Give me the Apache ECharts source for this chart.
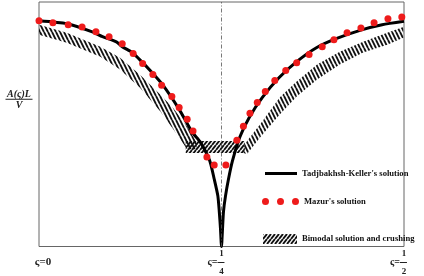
<!DOCTYPE html>
<html>
<head>
<meta charset="utf-8">
<script src="https://cdn.jsdelivr.net/npm/echarts@6/dist/echarts.min.js"></script>
<style>
    html, body { margin: 0; padding: 0; background: #fff; }
    #chart { width: 424px; height: 276px; }
</style>
</head>
<body>
<div id="chart"></div>
<script>
// Tadjbakhsh-Keller curve, [zeta, A(zeta)L/V]
var tkCurve = [
    [0, 0.923], [0.038, 0.911], [0.073, 0.878], [0.087, 0.858], [0.106, 0.837], [0.114, 0.817],
    [0.128, 0.793], [0.142, 0.752], [0.151, 0.724], [0.169, 0.663], [0.192, 0.561], [0.210, 0.467],
    [0.221, 0.427], [0.234, 0.350], [0.240, 0.276], [0.245, 0.207], [0.247, 0.142], [0.2486, 0.073],
    [0.25, 0],
    [0.2514, 0.073], [0.2527, 0.142], [0.2555, 0.207], [0.2596, 0.276], [0.265, 0.350], [0.275, 0.447],
    [0.288, 0.528], [0.306, 0.610], [0.329, 0.691], [0.353, 0.756], [0.380, 0.813], [0.407, 0.850],
    [0.442, 0.886], [0.470, 0.907], [0.5, 0.921]
];
// Mazur's solution
var mazurDots = [
    [0, 0.923], [0.019, 0.915], [0.040, 0.907], [0.059, 0.898], [0.078, 0.878], [0.096, 0.858],
    [0.114, 0.829], [0.129, 0.789], [0.142, 0.748], [0.156, 0.703], [0.168, 0.659], [0.182, 0.614],
    [0.192, 0.569], [0.203, 0.520], [0.211, 0.472], [0.230, 0.366], [0.240, 0.333],
    [0.256, 0.333], [0.271, 0.435], [0.280, 0.492], [0.289, 0.545], [0.299, 0.589], [0.310, 0.634],
    [0.323, 0.679], [0.338, 0.720], [0.353, 0.752], [0.370, 0.785], [0.388, 0.817], [0.404, 0.846],
    [0.422, 0.874], [0.441, 0.894], [0.459, 0.915], [0.478, 0.931], [0.497, 0.939]
];
// bimodal solution and crushing: [zeta, upper, lower]
var leftBand = [
    [0, 0.907, 0.866], [0.038, 0.874, 0.833], [0.084, 0.817, 0.776], [0.111, 0.772, 0.724],
    [0.138, 0.703, 0.650], [0.166, 0.622, 0.553], [0.184, 0.565, 0.480], [0.203, 0.490, 0.398],
    [0.216, 0.427, 0.398]
];
var centerBand = [[0.201, 0.431, 0.382], [0.282, 0.431, 0.382]];
var rightBand = [
    [0.280, 0.407, 0.382], [0.285, 0.431, 0.378], [0.303, 0.500, 0.447], [0.330, 0.610, 0.541],
    [0.353, 0.675, 0.614], [0.381, 0.744, 0.683], [0.412, 0.797, 0.744], [0.444, 0.837, 0.793],
    [0.477, 0.874, 0.825], [0.499, 0.898, 0.854]
];
var xTicks = [0, 0.25, 0.5];
var names = ["Tadjbakhsh-Keller's solution", "Mazur's solution", 'Bimodal solution and crushing'];

function hatch (w, h, back) {
    var c = document.createElement('canvas');
    c.width = w; c.height = h;
    var g = c.getContext('2d');
    g.strokeStyle = '#111';
    g.lineWidth = 1.9;
    g.beginPath();
    for (var k = -1; k <= 1; k++) {
        if (back) { g.moveTo(k * w, 0); g.lineTo(k * w + w, h); }
        else { g.moveTo(k * w, h); g.lineTo(k * w + w, 0); }
    }
    g.stroke();
    return { type: 'pattern', image: c, repeat: 'repeat' };
}
var backHatch = hatch(4, 8, true);
var slashHatch = hatch(4, 5, false);
var bands = [
    { pts: leftBand, fill: backHatch },
    { pts: centerBand, fill: slashHatch },
    { pts: rightBand, fill: backHatch }
];

var serif = 'Liberation Serif';
var legendText = { fontFamily: serif, fontWeight: 'bold', fontSize: 8.6, color: '#111' };
var chart = echarts.init(document.getElementById('chart'));
var option = {
    animation: false,
    grid: { left: 39, right: 20, top: 2, bottom: 28, show: true, borderColor: '#666', borderWidth: 1 },
    xAxis: {
        type: 'value', min: 0, max: 0.5, interval: 0.25,
        axisLine: { show: false }, axisTick: { show: false }, splitLine: { show: false },
        axisLabel: {
            margin: 4, showMinLabel: true, showMaxLabel: true, hideOverlap: false,
            formatter: function (v) {
                if (v === 0) return '{e| }\n{p|}{z|ς=0}\n{e| }';
                var d = v === 0.25 ? '4' : '2';
                return '{n|1}\n{s|ς=}{b|}{q|}\n{n|' + d + '}';
            },
            rich: {
                e: { fontSize: 6, lineHeight: 6 },
                n: { fontFamily: serif, fontWeight: 'bold', fontSize: 9, lineHeight: 6, color: '#222' },
                s: { fontFamily: serif, fontWeight: 'bold', fontSize: 10, lineHeight: 6, color: '#222' },
                z: { fontFamily: serif, fontWeight: 'bold', fontSize: 11, lineHeight: 6, color: '#222' },
                b: { width: 7, height: 1, backgroundColor: '#222' },
                q: { width: 11 },
                p: { width: 8 }
            }
        }
    },
    yAxis: {
        type: 'value', min: 0, max: 1,
        axisLine: { show: false }, axisTick: { show: false }, splitLine: { show: false },
        axisLabel: { show: false },
        name: '{a|A(ς)L}\n{b|}\n{v|V}',
        nameLocation: 'middle', nameRotate: 0, nameGap: 20,
        nameTextStyle: {
            padding: [0, 0, 48, 0], align: 'center',
            rich: {
                a: { fontFamily: serif, fontStyle: 'italic', fontWeight: 'bold', fontSize: 10, lineHeight: 9, color: '#222', align: 'center' },
                b: { width: 27, height: 1, backgroundColor: '#222', align: 'center' },
                v: { fontFamily: serif, fontStyle: 'italic', fontWeight: 'bold', fontSize: 10, lineHeight: 11, color: '#222', align: 'center' }
            }
        }
    },
    legend: [
        { data: [{ name: names[0], icon: 'rect' }], left: 265, top: 169, padding: 0, itemWidth: 32, itemHeight: 3,
          textStyle: legendText },
        { data: [{ name: names[1], icon: 'path://M0,3.5a3.5,3.5 0 1,0 7,0a3.5,3.5 0 1,0 -7,0M15,3.5a3.5,3.5 0 1,0 7,0a3.5,3.5 0 1,0 -7,0M30,3.5a3.5,3.5 0 1,0 7,0a3.5,3.5 0 1,0 -7,0' }],
          left: 262, top: 197, padding: 0, itemWidth: 37, itemHeight: 7,
          textStyle: legendText },
        { data: [{ name: names[2], icon: 'rect', itemStyle: { color: slashHatch } }],
          left: 263, top: 234, padding: 0, itemWidth: 34, itemHeight: 10,
          textStyle: legendText }
    ],
    series: [
        {
            name: names[2],
            type: 'custom',
            itemStyle: { color: slashHatch },
            data: bands.map(function (b) { return [b.pts[0][0], b.pts[0][1]]; }),
            renderItem: function (params, api) {
                var b = bands[params.dataIndex].pts;
                var up = b.map(function (p) { return api.coord([p[0], p[1]]); });
                var lo = b.slice().reverse().map(function (p) { return api.coord([p[0], p[2]]); });
                return { type: 'polygon', shape: { points: up.concat(lo) }, style: { fill: bands[params.dataIndex].fill } };
            },
            z: 1
        },
        {
            name: names[0],
            type: 'line',
            data: tkCurve,
            showSymbol: false,
            symbol: 'none',
            smooth: 0.2,
            lineStyle: { color: '#000', width: 3 },
            itemStyle: { color: '#000' },
            markLine: {
                silent: true, symbol: 'none', label: { show: false },
                lineStyle: { color: '#555', width: 0.8, type: [4, 2, 1, 2] },
                data: [{ xAxis: xTicks[1] }]
            },
            z: 2
        },
        {
            name: names[1],
            type: 'scatter',
            data: mazurDots,
            symbolSize: 7,
            itemStyle: { color: '#ee1b1b', opacity: 1 },
            z: 3
        }
    ]
};
chart.setOption(option);
</script>
</body>
</html>
